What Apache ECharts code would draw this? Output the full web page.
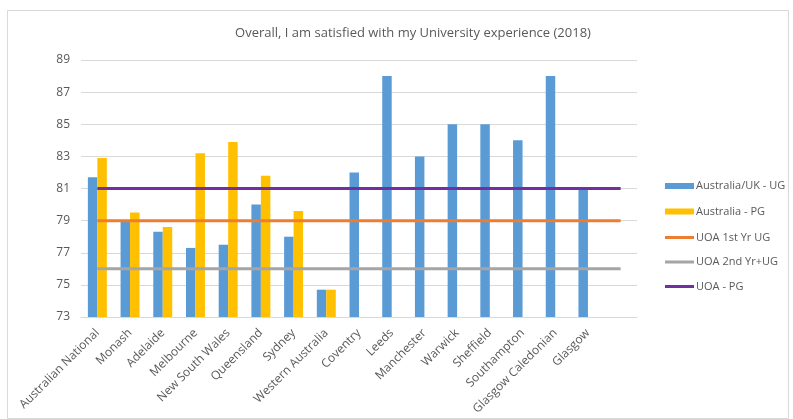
<!DOCTYPE html>
<html><head><meta charset="utf-8">
<script src="https://cdn.jsdelivr.net/npm/echarts@6/dist/echarts.min.js"></script>
<style>html,body{margin:0;padding:0;background:#fff}#c{width:793px;height:419px}</style>
</head><body><div id="c"></div>
<script>
const categories = ["Australian National","Monash","Adelaide","Melbourne","New South Wales","Queensland","Sydney","Western Australia","Coventry","Leeds","Manchester","Warwick","Sheffield","Southampton","Glasgow Caledonian","Glasgow",""];
const ugValues = [81.7,79.0,78.3,77.3,77.5,80.0,78.0,74.7,82,88,83,85,85,84,88,81,null];
const pgValues = [82.9,79.5,78.6,83.2,83.9,81.8,79.6,74.7,null,null,null,null,null,null,null,null,null];
const uoa1stYrUG = [79,79,79,79,79,79,79,79,79,79,79,79,79,79,79,79,79];
const uoa2ndYrUG = [76,76,76,76,76,76,76,76,76,76,76,76,76,76,76,76,76];
const uoaPG = [81,81,81,81,81,81,81,81,81,81,81,81,81,81,81,81,81];
const yMin = 73, yMax = 89, yStep = 2;

const chart = echarts.init(document.getElementById('c'), null, {renderer:'canvas'});
const font = 'Open Sans';
const txt = '#595959';
const legendText = {fontFamily:font,fontSize:11,color:txt,padding:[0,0,0,-3],lineHeight:14};
chart.setOption({
  animation:false,
  backgroundColor:'#fff',
  graphic:[{type:'rect',shape:{x:7.5,y:10.5,width:781,height:408},style:{fill:'none',stroke:'#d9d9d9',lineWidth:1},silent:true,z:-1}],
  title:{text:'Overall, I am satisfied with my University experience (2018)',left:408,textAlign:'center',top:22,
    textStyle:{fontFamily:font,fontSize:13,fontWeight:'normal',color:txt}},
  legend:[
    {orient:'vertical',left:660,top:174,itemGap:11.5,itemWidth:29,itemHeight:6,icon:'rect',
     textStyle:legendText,data:['Australia/UK - UG','Australia - PG']},
    {orient:'vertical',left:660,top:225.5,itemGap:10.5,itemWidth:29,itemHeight:3,icon:'rect',
     textStyle:legendText,data:['UOA 1st Yr UG','UOA 2nd Yr+UG','UOA - PG']}
  ],
  grid:{left:81,right:156,top:60,bottom:102,containLabel:false},
  xAxis:{type:'category',data:categories,
    axisLine:{lineStyle:{color:'#d9d9d9'}},axisTick:{show:false},
    axisLabel:{rotate:45,interval:0,fontFamily:font,fontSize:12,color:txt,margin:14}},
  yAxis:{type:'value',min:yMin,max:yMax,interval:yStep,
    axisLine:{show:false},axisTick:{show:false},
    splitLine:{lineStyle:{color:'#d9d9d9'}},
    axisLabel:{fontFamily:font,fontSize:12,color:txt,margin:11}},
  series:[
    {name:'Australia/UK - UG',type:'bar',data:ugValues,barWidth:'29%',barGap:'0%',itemStyle:{color:'#5B9BD5'}},
    {name:'Australia - PG',type:'bar',data:pgValues,barWidth:'29%',barGap:'0%',itemStyle:{color:'#FFC000'}},
    {name:'UOA 1st Yr UG',type:'line',data:uoa1stYrUG,symbol:'none',lineStyle:{color:'#ED7D31',width:3},itemStyle:{color:'#ED7D31'}},
    {name:'UOA 2nd Yr+UG',type:'line',data:uoa2ndYrUG,symbol:'none',lineStyle:{color:'#A5A5A5',width:3},itemStyle:{color:'#A5A5A5'}},
    {name:'UOA - PG',type:'line',data:uoaPG,symbol:'none',lineStyle:{color:'#7030A0',width:3},itemStyle:{color:'#7030A0'}}
  ]
});
</script></body></html>
